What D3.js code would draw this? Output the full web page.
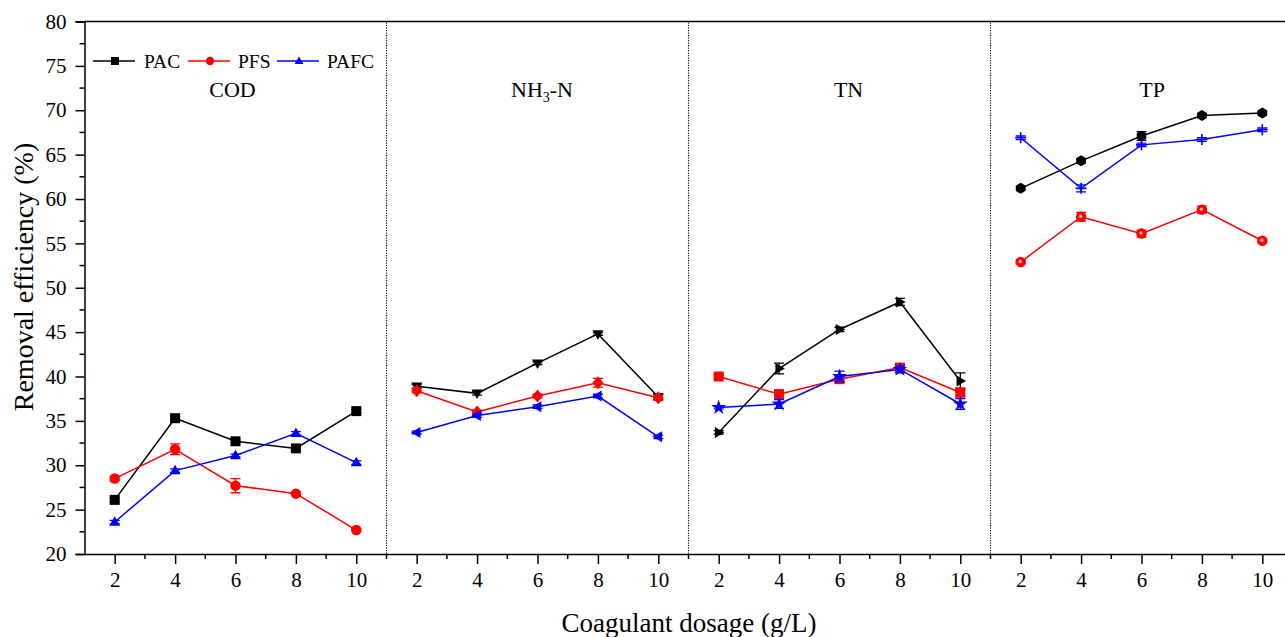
<!DOCTYPE html>
<html>
<head>
<meta charset="utf-8">
<script src="https://cdn.jsdelivr.net/npm/d3@7/dist/d3.min.js"></script>
<style>
  html, body { margin: 0; padding: 0; background: #fff; }
  svg { display: block; font-family: "Liberation Serif", "Times New Roman", serif; }
</style>
</head>
<body>
<svg id="chart" width="1285" height="637"></svg>
<script>
// ---------- data ----------
const dosages = [2, 4, 6, 8, 10];
const panels = ["COD", "NH3-N", "TN", "TP"];
const seriesNames = ["PAC", "PFS", "PAFC"];
const xTickLabels = ["2", "4", "6", "8", "10"];
const yTicks = [20, 25, 30, 35, 40, 45, 50, 55, 60, 65, 70, 75, 80];

const codPAC  = [26.1, 35.3, 32.7, 31.9, 36.1];
const codPFS  = [28.5, 31.8, 27.7, 26.8, 22.7];
const codPAFC = [23.6, 29.4, 31.1, 33.6, 30.3];

const nhPAC  = [38.9, 38.1, 41.5, 44.8, 37.7];
const nhPFS  = [38.4, 36.0, 37.8, 39.3, 37.6];
const nhPAFC = [33.7, 35.6, 36.6, 37.8, 33.2];

const tnPAC  = [33.7, 40.9, 45.3, 48.4, 39.5];
const tnPFS  = [40.0, 38.0, 39.7, 41.0, 38.2];
const tnPAFC = [36.5, 36.9, 40.0, 40.8, 36.9];

const tpPAC  = [61.2, 64.3, 67.1, 69.4, 69.7];
const tpPFS  = [52.9, 58.0, 56.1, 58.8, 55.3];
const tpPAFC = [66.9, 61.2, 66.1, 66.7, 67.8];

// error bars (±)
const codPACErr  = [0.2, 0.2, 0.15, 0.2, 0.2];
const codPFSErr  = [0.25, 0.6, 0.8, 0.2, 0.15];
const codPAFCErr = [0.2, 0.2, 0.15, 0.2, 0.2];
const nhPACErr   = [0.2, 0.2, 0.15, 0.15, 0.3];
const nhPFSErr   = [0.2, 0.2, 0.2, 0.5, 0.3];
const nhPAFCErr  = [0.15, 0.2, 0.2, 0.2, 0.2];
const tnPACErr   = [0.2, 0.6, 0.25, 0.4, 0.9];
const tnPFSErr   = [0.2, 0.5, 0.3, 0.3, 0.5];
const tnPAFCErr  = [0.15, 0.5, 0.6, 0.4, 0.6];
const tpPACErr   = [0.15, 0.15, 0.5, 0.2, 0.15];
const tpPFSErr   = [0.2, 0.5, 0.4, 0.4, 0.2];
const tpPAFCErr  = [0.2, 0.4, 0.2, 0.2, 0.2];

const values = [
  [codPAC, codPFS, codPAFC],
  [nhPAC, nhPFS, nhPAFC],
  [tnPAC, tnPFS, tnPAFC],
  [tpPAC, tpPFS, tpPAFC]
];
const errors = [
  [codPACErr, codPFSErr, codPAFCErr],
  [nhPACErr, nhPFSErr, nhPAFCErr],
  [tnPACErr, tnPFSErr, tnPAFCErr],
  [tpPACErr, tpPFSErr, tpPAFCErr]
];

// ---------- layout ----------
const colors = ["#000000", "#ff0000", "#0000ff"];
const markers = [
  ["square", "circle", "triUp"],
  ["triDown", "diamond", "triLeft"],
  ["triRight", "square", "star"],
  ["hexagon", "ball", "plus"]
];
const plotLeft = 84.5, plotTop = 21.5, plotBottom = 554;
const panelW = 302;

const svg = d3.select("#chart");
const y = d3.scaleLinear().domain([20, 80]).range([plotBottom, plotTop]);
const xs = panels.map((p, i) => d3.scaleLinear().domain([1, 11]).range([plotLeft + i * panelW, plotLeft + (i + 1) * panelW]));

function markerPath(type, s) {
  const r = s / 2;
  switch (type) {
    case "square": return `M${-r},${-r}H${r}V${r}H${-r}Z`;
    case "circle":
    case "ball": return d3.symbol(d3.symbolCircle, Math.PI * r * r * 1.1)();
    case "triUp": return `M0,${-r * 1.15}L${r * 1.1},${r * 0.75}L${-r * 1.1},${r * 0.75}Z`;
    case "triDown": return `M0,${r * 1.15}L${r * 1.1},${-r * 0.75}L${-r * 1.1},${-r * 0.75}Z`;
    case "triLeft": return `M${-r * 1.15},0L${r * 0.75},${r * 1.1}L${r * 0.75},${-r * 1.1}Z`;
    case "triRight": return `M${r * 1.15},0L${-r * 0.75},${r * 1.1}L${-r * 0.75},${-r * 1.1}Z`;
    case "diamond": return `M0,${-r * 1.3}L${r * 1.1},0L0,${r * 1.3}L${-r * 1.1},0Z`;
    case "star": return d3.symbol(d3.symbolStar, r * r * 2.8)();
    case "hexagon": {
      const pts = d3.range(6).map(k => { const a = Math.PI / 6 + k * Math.PI / 3; return [r * 1.1 * Math.cos(a), r * 1.1 * Math.sin(a)]; });
      return "M" + pts.map(p => p.join(",")).join("L") + "Z";
    }
    case "plus": return `M${-r * 1.1},0H${r * 1.1}M0,${-r * 1.1}V${r * 1.1}`;
  }
}

// frame top line
svg.append("line").attr("x1", plotLeft).attr("x2", 1285).attr("y1", plotTop).attr("y2", plotTop)
  .attr("stroke", "#000").attr("stroke-width", 1.5);

// dotted separators
for (let i = 1; i < panels.length; i++) {
  const xx = xs[i](1);
  svg.append("line").attr("x1", xx).attr("x2", xx).attr("y1", plotTop + 1).attr("y2", plotBottom)
    .attr("stroke", "#111").attr("stroke-width", 1.1).attr("stroke-dasharray", "1.3,1.2");
}

// y axis
const yAxis = d3.axisLeft(y).tickValues(yTicks).tickSize(9).tickPadding(9).tickFormat(d3.format("d"));
const gy = svg.append("g").attr("transform", `translate(${plotLeft},0)`).call(yAxis);
gy.select(".domain").attr("stroke-width", 1.5);
gy.selectAll(".tick line").attr("stroke-width", 1.5);
gy.selectAll(".tick text").attr("font-size", 21).attr("font-family", "Liberation Serif").attr("fill", "#000");
const yMinor = d3.range(22.5, 80, 5);
gy.selectAll(".minor").data(yMinor).enter().append("line")
  .attr("x1", 0).attr("x2", -5).attr("y1", d => y(d)).attr("y2", d => y(d))
  .attr("stroke", "#000").attr("stroke-width", 1.5);

// x axes per panel
panels.forEach((p, i) => {
  const ax = d3.axisBottom(xs[i]).tickValues(dosages).tickSize(10).tickPadding(8)
    .tickFormat((d, k) => xTickLabels[k]).tickSizeOuter(0);
  const g = svg.append("g").attr("transform", `translate(0,${plotBottom})`).call(ax);
  g.select(".domain").attr("stroke-width", 1.5);
  g.selectAll(".tick line").attr("stroke-width", 1.5);
  g.selectAll(".tick text").attr("font-size", 21).attr("font-family", "Liberation Serif").attr("fill", "#000");
  const minors = [3, 5, 7, 9, 11];
  g.selectAll(".minor").data(minors).enter().append("line")
    .attr("x1", d => xs[i](d)).attr("x2", d => xs[i](d)).attr("y1", 0).attr("y2", 5)
    .attr("stroke", "#000").attr("stroke-width", 1.5);
});

// series
const line = d3.line();
panels.forEach((p, i) => {
  const g = svg.append("g");
  seriesNames.forEach((s, j) => {
    const vals = values[i][j];
    const errs = errors[i][j];
    const pts = dosages.map((d, k) => [xs[i](d), y(vals[k])]);
    g.append("path").attr("d", line(pts)).attr("fill", "none")
      .attr("stroke", colors[j]).attr("stroke-width", 1.5);
    dosages.forEach((d, k) => {
      const cx = xs[i](d);
      const y1 = y(vals[k] + errs[k]), y2 = y(vals[k] - errs[k]);
      g.append("path")
        .attr("d", `M${cx},${y1}V${y2}M${cx - 5},${y1}H${cx + 5}M${cx - 5},${y2}H${cx + 5}`)
        .attr("stroke", colors[j]).attr("stroke-width", 1.3).attr("fill", "none");
    });
    const mt = markers[i][j];
    pts.forEach(pt => {
      const m = g.append("path").attr("transform", `translate(${pt[0]},${pt[1]})`)
        .attr("d", markerPath(mt, 10));
      if (mt === "plus") m.attr("stroke", colors[j]).attr("stroke-width", 1.6).attr("fill", "none");
      else m.attr("fill", colors[j]);
      if (mt === "ball") {
        g.append("circle").attr("cx", pt[0] - 0.5).attr("cy", pt[1] - 0.5).attr("r", 1.7).attr("fill", "#ffb0b0");
      }
    });
  });
});

// panel titles
const titleX = [5.9, 6.15, 6.3, 6.35];
panels.forEach((p, i) => {
  const t = svg.append("text").attr("x", xs[i](titleX[i])).attr("y", 97)
    .attr("text-anchor", "middle").attr("font-size", 22).attr("fill", "#000");
  if (p === "NH3-N") {
    t.append("tspan").text("NH");
    t.append("tspan").text("3").attr("font-size", 14).attr("dy", 5);
    t.append("tspan").text("-N").attr("dy", -5);
  } else {
    t.text(p);
  }
});

// legend
const legX = [93, 188, 277];
const legTextX = [144, 238, 327];
const legY = 61;
seriesNames.forEach((s, j) => {
  svg.append("line").attr("x1", legX[j]).attr("x2", legX[j] + 42).attr("y1", legY).attr("y2", legY)
    .attr("stroke", colors[j]).attr("stroke-width", 1.5);
  svg.append("path").attr("transform", `translate(${legX[j] + 22},${legY})`)
    .attr("d", markerPath(markers[0][j], 8)).attr("fill", colors[j]);
  svg.append("text").attr("x", legTextX[j]).attr("y", legY + 7).attr("font-size", 19.5).attr("fill", "#000").text(s);
});

// axis titles
svg.append("text").attr("x", 689).attr("y", 632).attr("text-anchor", "middle")
  .attr("font-size", 27).attr("fill", "#000").text("Coagulant dosage (g/L)");
svg.append("text").attr("transform", "translate(33,277) rotate(-90)").attr("text-anchor", "middle")
  .attr("font-size", 28).attr("fill", "#000").text("Removal efficiency (%)");
</script>
</body>
</html>
